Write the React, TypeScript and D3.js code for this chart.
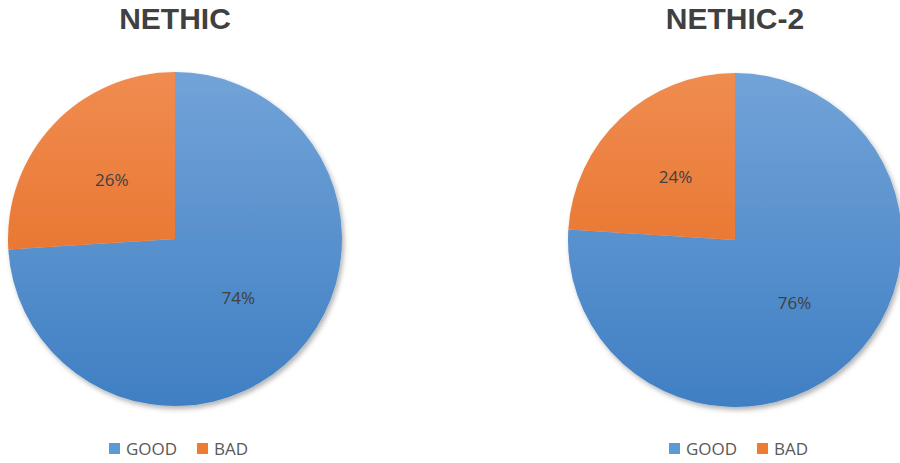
import React from "react";
import * as d3 from "d3";

const categories = ["GOOD", "BAD"];
const chartTitles = ["NETHIC", "NETHIC-2"];
const nethicValues = [74, 26];
const nethic2Values = [76, 24];

const W = 900;
const H = 463;

const gradients = [
  { id: "gBlue", top: "#72a3d8", bottom: "#3f7fc3" },
  { id: "gOrange", top: "#f08c50", bottom: "#e3661b" },
];
const legendColors = ["#5b9bd5", "#ed7d31"];

function Pie({ cx, cy, r, title, values, idx }: any) {
  const pie = d3.pie<number>().sort(null).value((d) => d);
  const arcs = pie(values);
  const arc = d3.arc<any>().innerRadius(0).outerRadius(r);
  const labelArc = d3.arc<any>().innerRadius(r * 0.52).outerRadius(r * 0.52);
  const legendX = cx - 66;
  return (
    <g>
      <defs>
        {gradients.map((g) => (
          <linearGradient
            key={g.id}
            id={`${g.id}${idx}`}
            gradientUnits="userSpaceOnUse"
            x1={0}
            y1={-r}
            x2={0}
            y2={r}
          >
            <stop offset="0%" stopColor={g.top} />
            <stop offset="100%" stopColor={g.bottom} />
          </linearGradient>
        ))}
      </defs>
      <text
        x={cx}
        y={29}
        textAnchor="middle"
        fontFamily="'Liberation Sans', Arial, sans-serif"
        fontWeight={700}
        fontSize={30}
        fill="#404040"
      >
        {title}
      </text>
      <g transform={`translate(${cx},${cy})`} filter="url(#shadow)">
        {arcs.map((a, i) => (
          <path key={i} d={arc(a) as string} fill={`url(#${gradients[i].id}${idx})`} />
        ))}
      </g>
      <g transform={`translate(${cx},${cy})`}>
        {arcs.map((a, i) => {
          const [x, y] = labelArc.centroid(a);
          return (
            <text
              key={i}
              x={x}
              y={y}
              dy="0.35em"
              textAnchor="middle"
              fontFamily="'Open Sans', sans-serif"
              fontSize={17}
              fill="#404040"
            >
              {`${values[i]}%`}
            </text>
          );
        })}
      </g>
      <g transform={`translate(${legendX},443)`}>
        {categories.map((c, i) => {
          const x = i * 88;
          return (
            <g key={c} transform={`translate(${x},0)`}>
              <rect x={0} y={0} width={11} height={11} fill={legendColors[i]} />
              <text
                x={17}
                y={11.5}
                fontFamily="'Open Sans', sans-serif"
                fontSize={17}
                fill="#595959"
              >
                {c}
              </text>
            </g>
          );
        })}
      </g>
    </g>
  );
}

export default function App() {
  return (
    <svg
      width={W}
      height={H}
      style={{ position: "absolute", left: 0, top: 0, background: "#fff" }}
    >
      <defs>
        <filter id="shadow" x="-10%" y="-10%" width="125%" height="125%">
          <feDropShadow dx={2} dy={3} stdDeviation={2.5} floodColor="#000" floodOpacity={0.3} />
        </filter>
      </defs>
      <Pie cx={175} cy={239} r={167} title={chartTitles[0]} values={nethicValues} idx={0} />
      <Pie cx={735} cy={240} r={167} title={chartTitles[1]} values={nethic2Values} idx={1} />
    </svg>
  );
}
